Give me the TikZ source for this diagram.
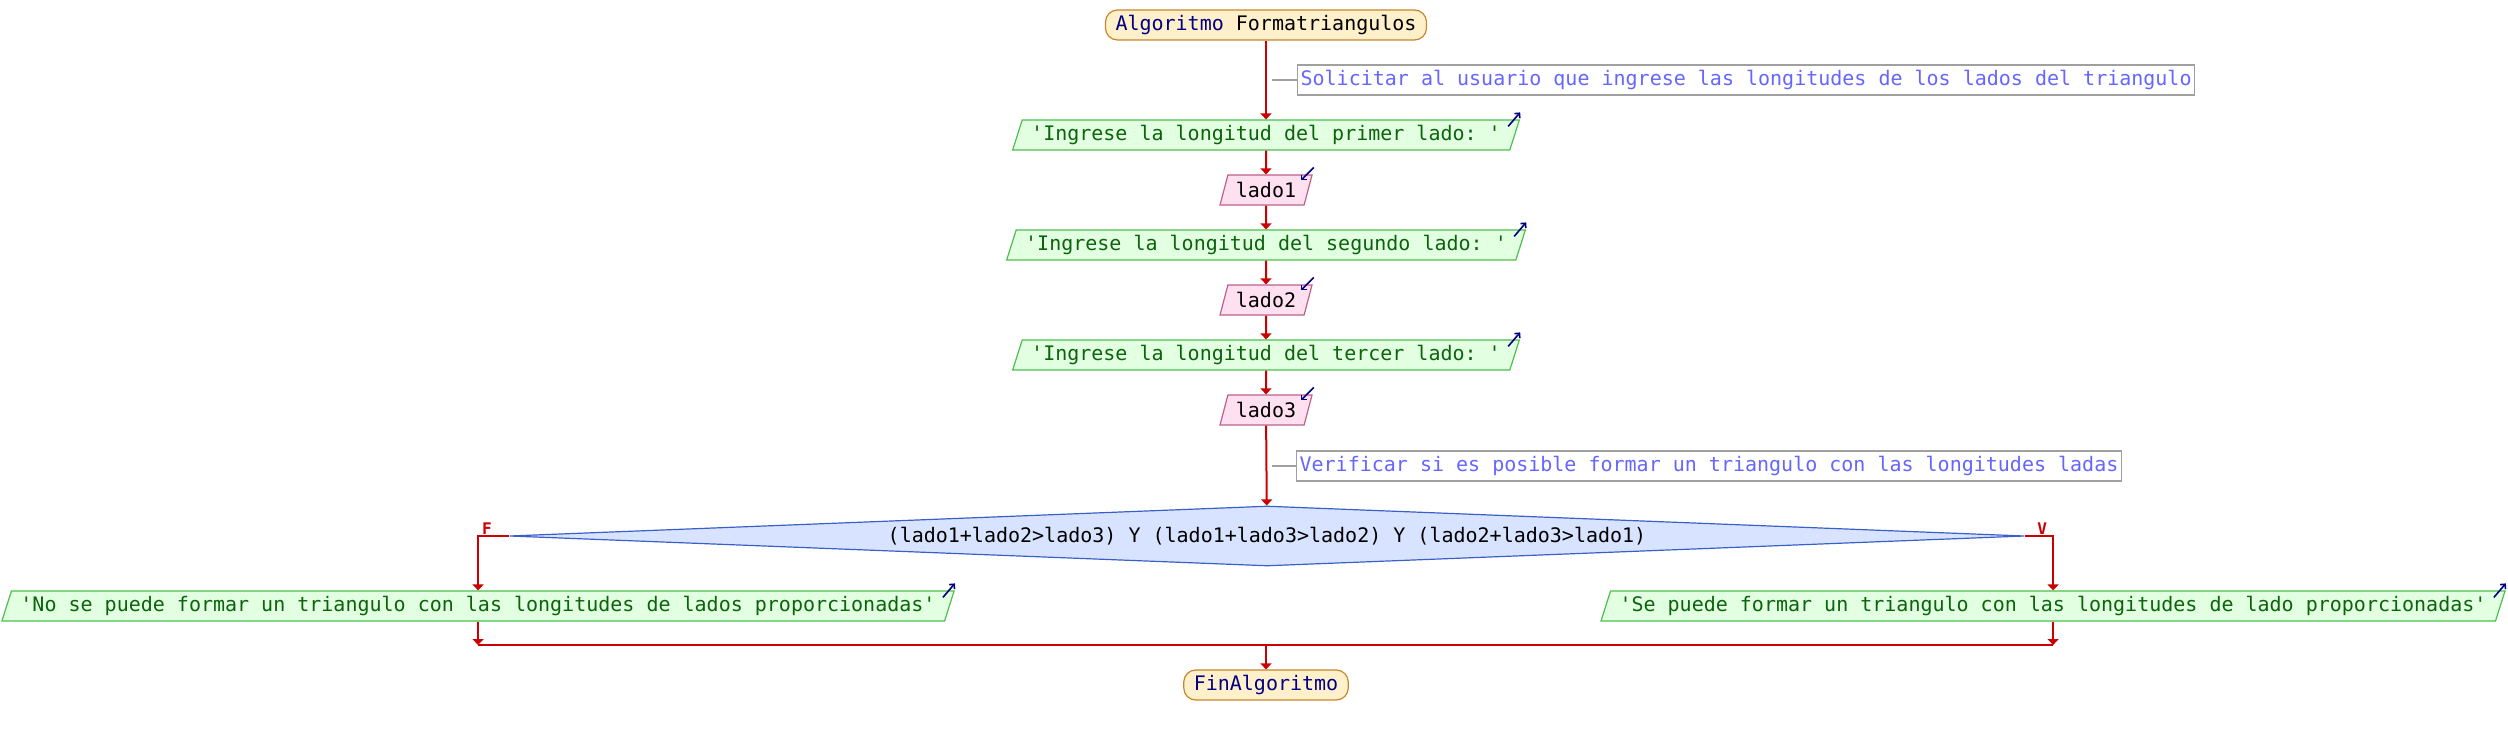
\documentclass[tikz,border=0pt]{standalone}
\usepackage{fontspec}
\setmonofont{DejaVu Sans Mono}
\usepackage{xcolor}
\usepackage{tikz}
\usetikzlibrary{arrows.meta,calc,shapes.geometric}
\definecolor{psred}{HTML}{CC0000}
\definecolor{psnavy}{HTML}{000080}
\definecolor{pstermf}{HTML}{FFF0CC}
\definecolor{pstermd}{HTML}{C8862A}
\definecolor{psoutf}{HTML}{E2FFE2}
\definecolor{psoutd}{HTML}{4CBF4C}
\definecolor{psoutt}{HTML}{0A640A}
\definecolor{psinf}{HTML}{FFE0F0}
\definecolor{psind}{HTML}{C0608A}
\definecolor{psdecf}{HTML}{D8E4FF}
\definecolor{psdecd}{HTML}{3A5FC8}
\definecolor{pscomt}{HTML}{6666FF}
\definecolor{pscomd}{HTML}{A0A0A0}

\begin{document}
\begin{tikzpicture}[x=1pt,y=-1pt,font=\ttfamily\fontsize{20}{24}\selectfont,
  term/.style={rectangle,rounded corners=12pt,draw=pstermd,fill=pstermf,line width=1.2pt,minimum height=30pt,inner xsep=10pt,inner ysep=2pt,text=psnavy},
  outp/.style={trapezium,trapezium stretches=true,trapezium left angle=68,trapezium right angle=112,draw=psoutd,fill=psoutf,line width=1.2pt,minimum height=30pt,inner xsep=9pt,inner ysep=2pt,text=psoutt},
  inp/.style={trapezium,trapezium stretches=true,trapezium left angle=68,trapezium right angle=112,draw=psind,fill=psinf,line width=1.2pt,minimum height=30pt,inner xsep=8pt,inner ysep=2pt,text=black},
  cond/.style={diamond,aspect=25,draw=psdecd,fill=psdecf,line width=1.2pt,minimum width=1515pt,minimum height=60pt,inner sep=0pt,text=black},
  cmt/.style={rectangle,draw=pscomd,fill=white,line width=1.2pt,minimum height=30pt,inner xsep=3pt,inner ysep=2pt,text=pscomt,anchor=west},
  cmline/.style={pscomd,line width=2pt},
  flow/.style={psred,line width=2pt,-{Triangle[length=6pt,width=11pt]}},
  flowline/.style={psred,line width=2pt},
  brlab/.style={psred,font=\ttfamily\bfseries\fontsize{16}{18}\selectfont,inner sep=1pt},
  oicon/.style={psnavy,line width=1.6pt,-{Straight Barb[length=3.5pt,width=7pt]}}]
\useasboundingbox (0,0) rectangle (2508,735);
% ---- start + reading the sides ----
\node[term] (ini) at (1266,25) {Algoritmo \textcolor{black}{Formatriangulos}};
\node[cmt] (com1) at (1297,80) {Solicitar al usuario que ingrese las longitudes de los lados del triangulo};
\coordinate (c1) at (1272,80);
\node[outp] (o1) at (1266,135) {'Ingrese la longitud del primer lado: '};
\node[inp] (l1) at (1266,190) {lado1};
\node[outp] (o2) at (1266,245) {'Ingrese la longitud del segundo lado: '};
\node[inp] (l2) at (1266,300) {lado2};
\node[outp] (o3) at (1266,355) {'Ingrese la longitud del tercer lado: '};
\node[inp] (l3) at (1266,410) {lado3};
\draw[cmline] (c1)--(com1);
\draw[flow] (ini)--(o1); \draw[flow] (o1)--(l1); \draw[flow] (l1)--(o2);
\draw[flow] (o2)--(l2); \draw[flow] (l2)--(o3); \draw[flow] (o3)--(l3);
% io markers
\foreach \n in {o1,o2,o3}{
  \draw[oicon] ($(\n.top right corner)+(-12,7)$)--($(\n.top right corner)+(0,-7)$);}
\foreach \n in {l1,l2,l3}{
  \draw[oicon] ($(\n.top right corner)+(1,-7)$)--($(\n.top right corner)+(-12,6)$);}
% ---- condition ----
\node[cmt] (com2) at (1296,466) {Verificar si es posible formar un triangulo con las longitudes ladas};
\coordinate (c2) at (1272,466);
\draw[cmline] (c2)--(com2);
\node[cond] (dec) at (1267,536) {(lado1+lado2>lado3) Y (lado1+lado3>lado2) Y (lado2+lado3>lado1)};
\draw[flow] (l3)--(dec);
\node[outp] (no) at (478,606) {'No se puede formar un triangulo con las longitudes de lados proporcionadas'};
\node[outp] (si) at (2053,606) {'Se puede formar un triangulo con las longitudes de lado proporcionadas'};
\foreach \n in {no,si}{
  \draw[oicon] ($(\n.top right corner)+(-12,7)$)--($(\n.top right corner)+(0,-7)$);}
\draw[flow] (dec.west) -| node[brlab,pos=0.5,anchor=south west,xshift=2pt]{F} (no.north);
\draw[flow] (dec.east) -| node[brlab,pos=0.5,anchor=south east,xshift=-4pt]{V} (si.north);
% ---- join + end ----
\coordinate (junta) at (1266,645);
\coordinate (mL) at (no.south |- junta);
\coordinate (mR) at (si.south |- junta);
\draw[flow] (no.south)--(mL); \draw[flow] (si.south)--(mR);
\draw[flowline] (mL)--(mR);
\node[term] (fin) at (1266,685) {FinAlgoritmo};
\draw[flow] (junta)--(fin);
\end{tikzpicture}
\end{document}
